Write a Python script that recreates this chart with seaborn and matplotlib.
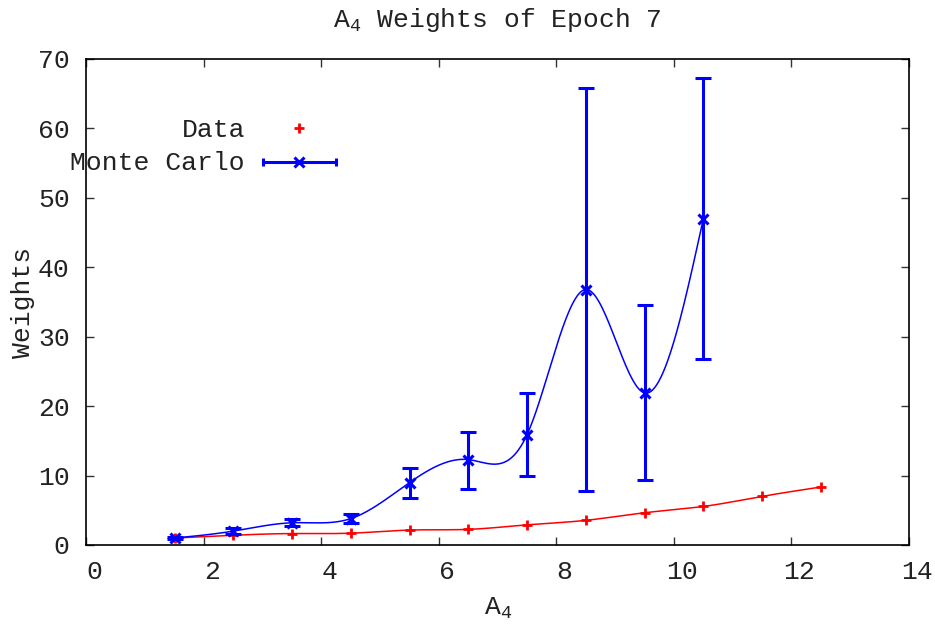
import numpy as np
import pandas as pd
import matplotlib
matplotlib.use("Agg")
import matplotlib.pyplot as plt
import matplotlib.transforms as mtransforms
import seaborn as sns

# ---- data ----
data_x = [1.5, 2.5, 3.5, 4.5, 5.5, 6.5, 7.5, 8.5, 9.5, 10.5, 11.5, 12.5]
data_y = [1.0, 1.4, 1.65, 1.7, 2.15, 2.25, 2.9, 3.55, 4.65, 5.55, 7.0, 8.35]

mc_x = [1.5, 2.5, 3.5, 4.5, 5.5, 6.5, 7.5, 8.5, 9.5, 10.5]
mc_y = [1.0, 2.0, 3.2, 3.8, 9.0, 12.3, 15.9, 36.8, 21.9, 47.0]
mc_lo = [0.8, 1.6, 2.7, 3.2, 6.8, 8.1, 9.9, 7.8, 9.3, 26.8]
mc_hi = [1.2, 2.4, 3.7, 4.4, 11.1, 16.3, 21.9, 65.8, 34.6, 67.3]

x_ticks = [0, 2, 4, 6, 8, 10, 12, 14]
y_ticks = [0, 10, 20, 30, 40, 50, 60, 70]

title = "A$_4$ Weights of Epoch 7"
xlabel = "A$_4$"
ylabel = "Weights"
labels = ["Data", "Monte Carlo"]

RED = "#ff0000"
BLUE = "#0000ff"


def natural_cspline(x, y, num=500):
    """Natural cubic spline through the points (like gnuplot 'smooth csplines')."""
    x = np.asarray(x, float)
    y = np.asarray(y, float)
    n = len(x)
    h = np.diff(x)
    A = np.zeros((n, n))
    r = np.zeros(n)
    A[0, 0] = 1.0
    A[-1, -1] = 1.0
    for i in range(1, n - 1):
        A[i, i - 1] = h[i - 1]
        A[i, i] = 2 * (h[i - 1] + h[i])
        A[i, i + 1] = h[i]
        r[i] = 6 * ((y[i + 1] - y[i]) / h[i] - (y[i] - y[i - 1]) / h[i - 1])
    M = np.linalg.solve(A, r)
    xs = np.linspace(x[0], x[-1], num)
    idx = np.clip(np.searchsorted(x, xs) - 1, 0, n - 2)
    x0, x1 = x[idx], x[idx + 1]
    hh = x1 - x0
    a = (x1 - xs) / hh
    b = (xs - x0) / hh
    ys = (a * y[idx] + b * y[idx + 1]
          + ((a ** 3 - a) * M[idx] + (b ** 3 - b) * M[idx + 1]) * hh ** 2 / 6)
    return xs, ys


sns.set_theme(style="ticks")
plt.rcParams["font.family"] = ["Liberation Mono", "DejaVu Sans Mono"]
plt.rcParams["mathtext.default"] = "regular"

FS = 19
fig = plt.figure(figsize=(9.35, 6.3), dpi=100)
ax = fig.add_axes([86.4 / 935, 85 / 630, 822.6 / 935, 486 / 630])
ax.set_facecolor("white")

# Data curve + points
sx, sy = natural_cspline(data_x, data_y)
sns.lineplot(x=sx, y=sy, color=RED, lw=1.1, ax=ax, sort=False, estimator=None)
ax.plot(data_x, data_y, linestyle="none", marker="+", color=RED,
        markersize=7, markeredgewidth=2, zorder=3)

# Monte Carlo curve + error bars
mx, my = natural_cspline(mc_x, mc_y)
sns.lineplot(x=mx, y=my, color=BLUE, lw=1.1, ax=ax, sort=False, estimator=None)
yerr = np.array([np.array(mc_y) - np.array(mc_lo), np.array(mc_hi) - np.array(mc_y)])
ax.errorbar(mc_x, mc_y, yerr=yerr, fmt="x", color=BLUE, ecolor=BLUE,
            elinewidth=2.2, capsize=5.5, capthick=2.2,
            markersize=6.5, markeredgewidth=2.2, zorder=4)

# axes styling
ax.set_xlim(0, 14)
ax.set_ylim(0, 70)
ax.set_xticks(x_ticks)
ax.set_yticks(y_ticks)
ax.set_xticklabels([str(t) for t in x_ticks])
ax.set_yticklabels([str(t) for t in y_ticks])
for s in ax.spines.values():
    s.set_visible(True)
    s.set_color("black")
    s.set_linewidth(1.2)
ax.tick_params(axis="both", direction="in", length=6, width=1.0, color="#333333",
               top=True, right=True, labelsize=FS, labelcolor="#222222")
ax.tick_params(axis="x", pad=11)
ax.tick_params(axis="y", pad=12)
offset = mtransforms.ScaledTranslation(8 / 100, 0, fig.dpi_scale_trans)
for lbl in ax.get_xticklabels():
    lbl.set_transform(lbl.get_transform() + offset)

ax.set_title(title, fontsize=FS, pad=23, color="#222222")
ax.set_xlabel(xlabel, fontsize=FS, labelpad=8, color="#222222")
ax.set_ylabel(ylabel, fontsize=FS, color="#222222")
ax.yaxis.set_label_coords(-0.062, 0.5)

# legend (gnuplot style: right-aligned labels, samples to the right)
ax.text(0.1928, 0.854, labels[0], transform=ax.transAxes, ha="right", va="center",
        fontsize=FS, color="#222222")
ax.plot([0.2585], [0.858], transform=ax.transAxes, marker="+", color=RED,
        markersize=7, markeredgewidth=2, linestyle="none", clip_on=False)
ax.text(0.1928, 0.786, labels[1], transform=ax.transAxes, ha="right", va="center",
        fontsize=FS, color="#222222")
ax.plot([0.2143, 0.3034], [0.7875, 0.7875], transform=ax.transAxes, color=BLUE,
        lw=2.2, clip_on=False)
ax.plot([0.2143, 0.3034], [0.7875, 0.7875], transform=ax.transAxes, color=BLUE,
        marker="|", markersize=6, markeredgewidth=2.2, linestyle="none", clip_on=False)
ax.plot([0.2585], [0.7875], transform=ax.transAxes, marker="x", color=BLUE,
        markersize=6.5, markeredgewidth=2.2, linestyle="none", clip_on=False)

fig.savefig("out.png", dpi=100, facecolor="white")
